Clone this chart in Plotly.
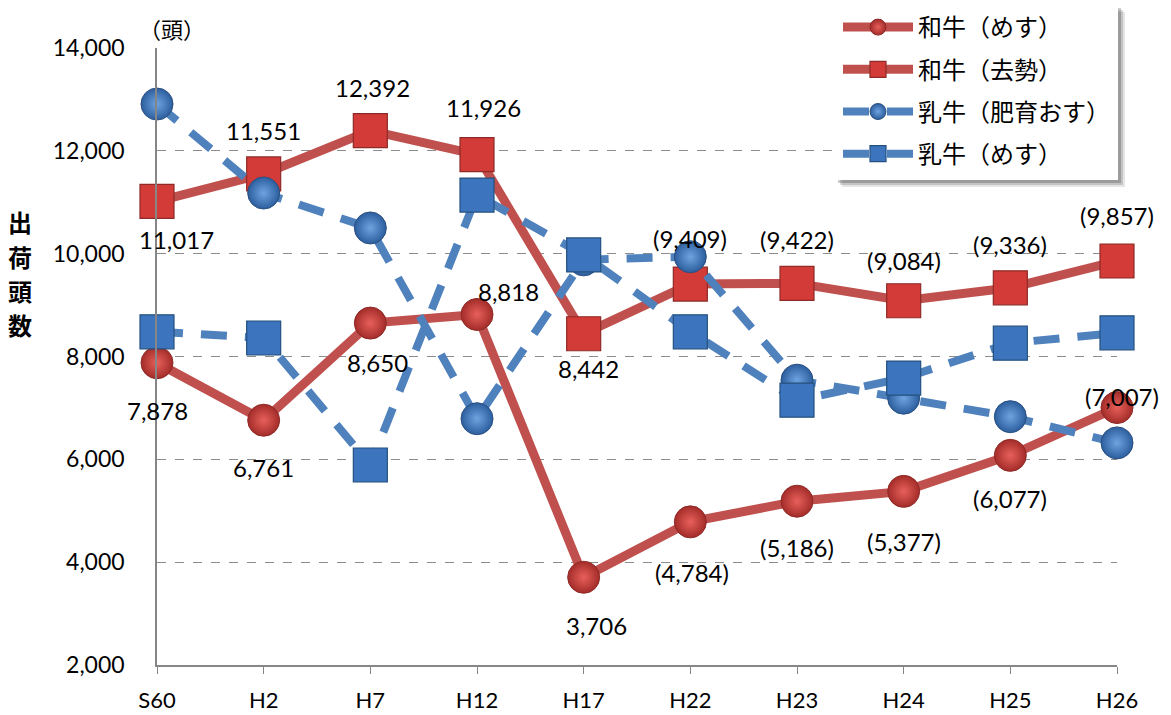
import plotly.graph_objects as go

categories = ["S60", "H2", "H7", "H12", "H17", "H22", "H23", "H24", "H25", "H26"]

wagyu_female = [7878, 6761, 8650, 8818, 3706, 4784, 5186, 5377, 6077, 7007]
wagyu_female_labels = ["7,878", "6,761", "8,650", "8,818", "3,706",
                       "(4,784)", "(5,186)", "(5,377)", "(6,077)", "(7,007)"]

wagyu_steer = [11017, 11551, 12392, 11926, 8442, 9409, 9422, 9084, 9336, 9857]
wagyu_steer_labels = ["11,017", "11,551", "12,392", "11,926", "8,442",
                      "(9,409)", "(9,422)", "(9,084)", "(9,336)", "(9,857)"]

dairy_male = [12910, 11180, 10500, 6790, 9880, 9940, 7540, 7190, 6830, 6320]
dairy_female = [8480, 8360, 5890, 11140, 9975, 8480, 7150, 7580, 8260, 8460]

series_names = ["和牛（めす）", "和牛（去勢）", "乳牛（肥育おす）", "乳牛（めす）"]
tick_vals = [2000, 4000, 6000, 8000, 10000, 12000, 14000]
y_title_chars = ["出", "荷", "頭", "数"]

# label offsets in pixels (style only): (xshift, yshift)
female_label_off = [(0, -48), (0, -47), (7, -39), (31, 23), (13, -48),
                    (2, -51), (0, -46), (0, -50), (0, -43), (5, 11)]
steer_label_off = [(19, -38), (0, 43), (2, 43), (6, 47), (5, -35),
                   (0, 46), (0, 44), (0, 40), (0, 43), (0, 46)]

RED = "#C0504D"
BLUE = "#4F81BD"
num_font = "Lato"
jp_font = "Noto Sans CJK JP"

L, R, T, B = 157, 54, 48, 50
PW, PH = 1171 - L - R, 715 - T - B


def px_x(x):
    return (x - L) / PW


def px_y(y):
    return (715 - B - y) / PH


fig = go.Figure()

fig.add_trace(go.Scatter(
    x=categories, y=wagyu_female, name=series_names[0], legendgroup="a",
    mode="lines+markers", cliponaxis=False,
    line=dict(color=RED, width=9),
    marker=dict(symbol="circle", size=32, color="#A32C29",
                gradient=dict(type="radial", color="#E8605B"),
                line=dict(color="#8E2A27", width=1))))

fig.add_trace(go.Scatter(
    x=categories, y=wagyu_steer, name=series_names[1], legendgroup="b",
    mode="lines+markers", cliponaxis=False,
    line=dict(color=RED, width=9),
    marker=dict(symbol="square", size=34, color="#D23B37",
                line=dict(color="#8E2A27", width=1.2))))

fig.add_trace(go.Scatter(
    x=categories, y=dairy_male, name=series_names[2], legendgroup="c",
    mode="lines+markers", cliponaxis=False,
    line=dict(color=BLUE, width=8, dash="26px,18px"),
    marker=dict(symbol="circle", size=32, color="#2C5E9E",
                gradient=dict(type="radial", color="#6FA3E0"),
                line=dict(color="#2A4F80", width=1))))

fig.add_trace(go.Scatter(
    x=categories, y=dairy_female, name=series_names[3], legendgroup="d",
    mode="lines+markers", cliponaxis=False,
    line=dict(color=BLUE, width=8, dash="26px,18px"),
    marker=dict(symbol="square", size=34, color="#3C75BE",
                line=dict(color="#24507F", width=1.2))))

annotations = []
lab_font = dict(family=num_font, size=24, color="black")
for i, c in enumerate(categories):
    xs, ys = female_label_off[i]
    annotations.append(dict(x=c, y=wagyu_female[i], text=wagyu_female_labels[i],
                            xshift=xs, yshift=ys, showarrow=False, font=lab_font))
    xs, ys = steer_label_off[i]
    annotations.append(dict(x=c, y=wagyu_steer[i], text=wagyu_steer_labels[i],
                            xshift=xs, yshift=ys, showarrow=False, font=lab_font))

for k, ch in enumerate(y_title_chars):
    annotations.append(dict(xref="paper", yref="paper", x=px_x(20),
                            y=px_y(222 + 34.3 * k),
                            text=ch, showarrow=False,
                            xanchor="center", yanchor="middle",
                            font=dict(family=jp_font, size=24, color="black", weight="bold")))
annotations.append(dict(xref="paper", yref="paper", x=px_x(172), y=px_y(28),
                        text="（頭）", showarrow=False,
                        xanchor="center", yanchor="middle",
                        font=dict(family=jp_font, size=22, color="black")))

# legend box with soft shadow
shapes = []
for d, op in [(7, 0.10), (5, 0.15), (3, 0.2)]:
    shapes.append(dict(type="rect", xref="paper", yref="paper", layer="above",
                       x0=px_x(835 + d), x1=px_x(1118 + d),
                       y0=px_y(180 + d), y1=px_y(5 + d),
                       fillcolor="black", opacity=op, line=dict(width=0)))
shapes.append(dict(type="rect", xref="paper", yref="paper", layer="above",
                   x0=px_x(835), x1=px_x(1118), y0=px_y(180), y1=px_y(5),
                   fillcolor="white", line=dict(width=0)))

fig.update_layout(
    width=1171, height=715,
    margin=dict(l=L, r=R, t=T, b=B, autoexpand=False),
    paper_bgcolor="white", plot_bgcolor="white",
    showlegend=True,
    legend=dict(x=px_x(838), y=px_y(5), xanchor="left", yanchor="top",
                bgcolor="rgba(0,0,0,0)", borderwidth=0,
                font=dict(family=jp_font, size=24, color="black"),
                tracegroupgap=8, itemwidth=70),
    annotations=annotations,
    shapes=shapes,
    xaxis=dict(type="category", range=[0, 9], showgrid=False,
               showline=True, linecolor="#868686", linewidth=1.5,
               ticks="outside", ticklen=7, tickcolor="#868686",
               ticklabelstandoff=8,
               tickfont=dict(family=num_font, size=22, color="black")),
    yaxis=dict(range=[2000, 14000], tickvals=tick_vals, tickformat=",",
               showgrid=True, gridcolor="#8C8C8C", griddash="dash", gridwidth=1,
               showline=True, linecolor="#868686", linewidth=1.5,
               zeroline=False, ticks="", ticklabelstandoff=26,
               tickfont=dict(family=num_font, size=23, color="black")),
)

fig.write_html("out.html", config={"displayModeBar": False},
               post_script="document.body.style.margin='0px';")
